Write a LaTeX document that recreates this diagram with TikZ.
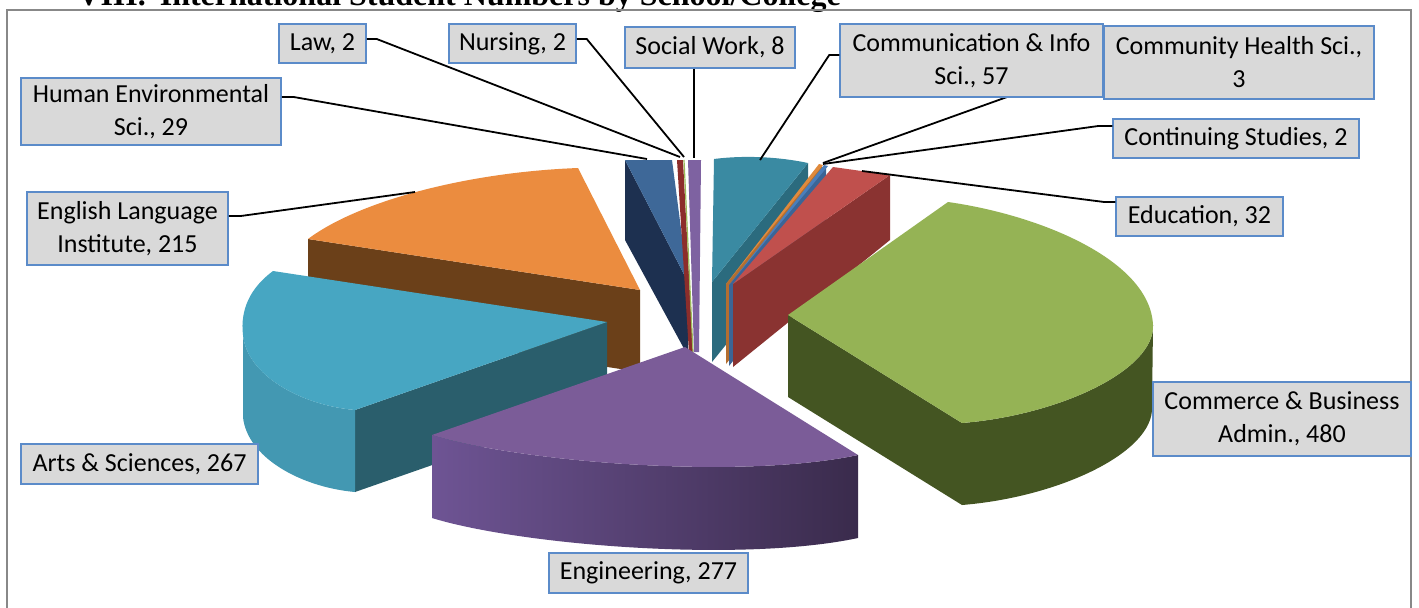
\documentclass[tikz,border=0pt]{standalone}
\usepackage{fontspec}
\setmainfont{Carlito}
\newfontfamily\titlefont{Liberation Serif}
\usetikzlibrary{calc}
\definecolor{frameGray}{HTML}{888888}
\definecolor{lblFill}{HTML}{D9D9D9}
\definecolor{lblDraw}{HTML}{5B8BC9}
\definecolor{humTop}{HTML}{3E6898}
\definecolor{humSide}{HTML}{1D3050}
\definecolor{lawCol}{HTML}{8C2D2B}
\definecolor{nurCol}{HTML}{9BBB59}
\definecolor{swCol}{HTML}{7E62A1}
\definecolor{comTop}{HTML}{3A8AA2}
\definecolor{comSide}{HTML}{2B6B7E}
\definecolor{chCol}{HTML}{E08A3C}
\definecolor{contCol}{HTML}{4A7EBB}
\definecolor{eduTop}{HTML}{C0504D}
\definecolor{eduSide}{HTML}{8A3331}
\definecolor{busTop}{HTML}{95B355}
\definecolor{busSide}{HTML}{445522}
\definecolor{engTop}{HTML}{7B5C98}
\definecolor{engSideL}{HTML}{6E5494}
\definecolor{engSideR}{HTML}{3A2B4C}
\definecolor{artTop}{HTML}{47A6C2}
\definecolor{artOuter}{HTML}{4398B2}
\definecolor{artSide}{HTML}{2A5E6C}
\definecolor{ellTop}{HTML}{EB8C3F}
\definecolor{ellSide}{HTML}{6B4019}
\tikzset{
  lbl/.style={draw=lblDraw, fill=lblFill, line width=0.75pt, inner sep=0pt,
    align=center, font=\fontsize{13}{16.5}\selectfont},
  leader/.style={draw=black, line width=0.9pt}
}
\begin{document}
\begin{tikzpicture}[x=0.5pt,y=-0.5pt]
\useasboundingbox (0,0) rectangle (1419,607);
\clip (0,0) rectangle (1419,607);
\fill[white] (0,0) rectangle (1419,607);

% title (cut off at the top)
\node[anchor=base west, inner sep=0pt, font=\titlefont\bfseries\fontsize{16}{19}\selectfont] (title) at (77,5)
  {VIII.\hskip7pt International Student Numbers by School/College};

% chart frame
\draw[frameGray, line width=1pt] (7,640) -- (7,10) -- (1411,10) -- (1411,640);

% ---- left thin cluster ----
\fill[humSide] (625,160) -- (688,282) -- (688,356) -- (625,240) -- cycle;
\fill[humTop] (625,160) -- (672,160) -- (688,282) -- cycle;
\fill[lawCol] (677,160) -- (683,160) -- (693,353) -- (689,353) -- cycle;
\draw[nurCol, line width=0.6pt] (684,160) -- (693,352);
\fill[swCol] (688,160) -- (701,160) -- (699,352) -- (694,352) -- cycle;

% ---- right thin cluster ----
\fill[comSide] (808,163) -- (712,282) -- (712,362) -- (808,243) -- cycle;
\fill[comTop] (714,159) .. controls (745,155) and (780,157) .. (808,163) -- (712,282) -- cycle;
\fill[chCol!80!black] (822,165) -- (726,284) -- (726,364) -- (822,245) -- cycle;
\fill[chCol] (819,164) -- (823,165) -- (726,284) -- cycle;
\fill[contCol!80!black] (826,166) -- (729,285) -- (729,366) -- (826,246) -- cycle;
\fill[contCol] (824,165) -- (828,166) -- (729,285) -- cycle;
\fill[eduSide] (890,175) -- (733,284) -- (733,367) -- (890,240) -- cycle;
\fill[eduTop] (833,167) -- (890,175) -- (733,284) -- cycle;

% ---- English Language Institute ----
\fill[ellSide] (308,239) -- (640,290) -- (640,372) -- (308,321) -- cycle;
\fill[ellTop] (308,239) .. controls (360,200) and (470,172) .. (578,168) -- (640,290) -- cycle;

% ---- Arts & Sciences ----
\fill[artSide] (607,322) -- (607,404) -- (355,492) -- (355,410) -- cycle;
\fill[artOuter] (243,335) .. controls (247,375) and (300,405) .. (355,410) -- (355,492)
  .. controls (300,487) and (247,457) .. (243,417) -- cycle;
\fill[artTop] (273,271) -- (607,322) -- (355,410) .. controls (300,405) and (247,375) .. (243,335)
  .. controls (240,310) and (250,288) .. (273,271) -- cycle;

% ---- Commerce & Business ----
\fill[busSide] (788,315) -- (962,423) -- (962,505) -- (788,397) -- cycle;
\fill[busSide] (1153,325) .. controls (1155,370) and (1060,415) .. (962,423) -- (962,505)
  .. controls (1060,497) and (1154,452) .. (1152,407) -- cycle;
\fill[busTop] (788,315) -- (948,202) .. controls (1040,215) and (1150,260) .. (1153,325)
  .. controls (1155,370) and (1060,415) .. (962,423) -- cycle;

% ---- Engineering ----
\shade[left color=engSideL, right color=engSideR] (432,435) .. controls (520,462) and (740,480) .. (858,455)
  -- (858,538) .. controls (740,563) and (520,545) .. (432,518) -- cycle;
\fill[engTop] (685,347) -- (432,435) .. controls (520,462) and (740,480) .. (858,455) -- cycle;

% ---- leader end points ----
\coordinate (pHum) at (647,159);
\coordinate (pLaw) at (680,157);
\coordinate (pNur) at (684,157);
\coordinate (pSw) at (694,158);
\coordinate (pCom) at (760,160);
\coordinate (pCh) at (823,163);
\coordinate (pCont) at (823,164);
\coordinate (pEdu) at (862,171);
\coordinate (pEll) at (415,192);

% ---- label boxes ----
\node[lbl, minimum width=43.5pt, minimum height=19.5pt] (law) at (322.5,43.5) {Law, 2};
\node[lbl, minimum width=63.5pt, minimum height=19.5pt] (nur) at (512.5,43.5) {Nursing, 2};
\node[lbl, minimum width=85pt, minimum height=20.5pt] (sw) at (710,47.5) {Social Work, 8};
\node[lbl, minimum width=130pt, minimum height=33.5pt] (hum) at (151,111.5) {Human Environmental\\Sci., 29};
\node[lbl, minimum width=135pt, minimum height=36.5pt] (ch) at (1239,62.5) {Community Health Sci.,\\3};

% leaders (under the boxes they leave)
\draw[leader] (ch.west) -- (pCh);
\draw[leader] ($(hum.east)+(0,-14.5)$) -- ++(12,0) -- (pHum);
\draw[leader] ($(law.east)+(0,-4.5)$) -- ++(10,0) -- (pLaw);
\draw[leader] ($(nur.east)+(0,-4.5)$) -- ++(10,0) -- (pNur);
\draw[leader] ($(sw.south)+(-16,0)$) -- (pSw);

\node[lbl, minimum width=131.5pt, minimum height=36.5pt] (com) at (971.5,60.5) {Communication \& Info\\Sci., 57};
\node[lbl, minimum width=123pt, minimum height=19.5pt] (cont) at (1236,138.5) {Continuing Studies, 2};
\node[lbl, minimum width=83.5pt, minimum height=19.5pt] (edu) at (1199.5,216.5) {Education, 32};
\node[lbl, minimum width=100.5pt, minimum height=36.5pt] (ell) at (127.5,228.5) {English Language\\Institute, 215};
\node[lbl, minimum width=118.5pt, minimum height=20pt] (art) at (139.5,464) {Arts \& Sciences, 267};
\node[lbl, minimum width=129pt, minimum height=37pt] (bus) at (1282,419) {Commerce \& Business\\Admin., 480};
\node[lbl, minimum width=99.5pt, minimum height=20pt] (engr) at (648.5,573) {Engineering, 277};

\draw[leader] ($(com.west)+(0,-5.5)$) -- ++(-10,0) -- (pCom);
\draw[leader] ($(cont.west)+(0,-12.5)$) -- ++(-14,0) -- (pCont);
\draw[leader] ($(edu.west)+(0,-14.5)$) -- ++(-11,0) -- (pEdu);
\draw[leader] ($(ell.east)+(0,-12.5)$) -- ++(12,0) -- (pEll);
\end{tikzpicture}
\end{document}
